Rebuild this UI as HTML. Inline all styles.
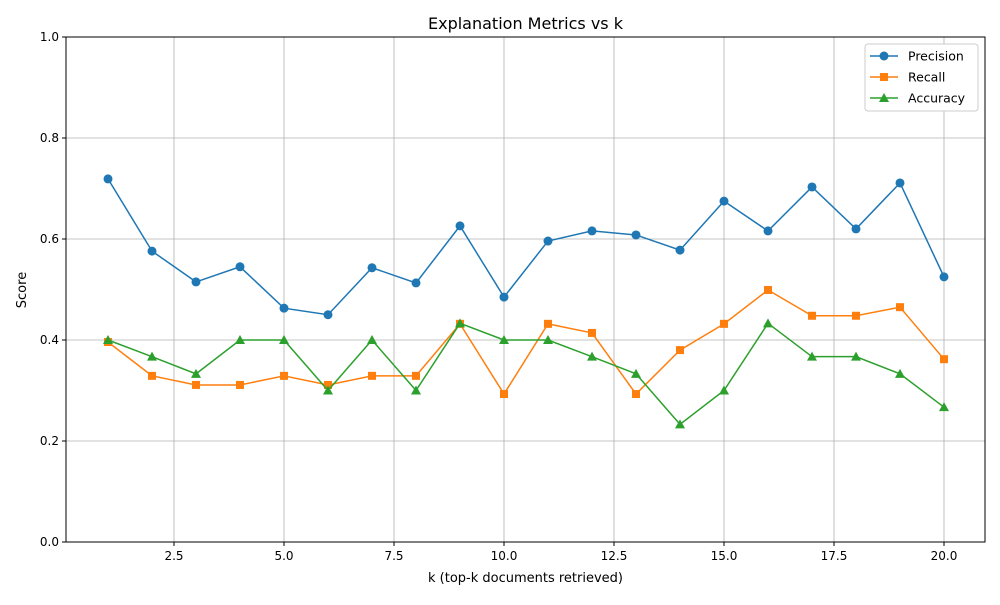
<!DOCTYPE html>
<html><head><meta charset="utf-8"><style>
body{margin:0;background:#fff;font-family:"Liberation Sans","DejaVu Sans",sans-serif;}
svg text{font-family:"DejaVu Sans","Liberation Sans",sans-serif;}
</style></head><body>
<svg id="chart" width="1000" height="600" xmlns="http://www.w3.org/2000/svg">
<rect width="1000" height="600" fill="#fff"/>
<g id="grid"></g><g id="axes"></g><g id="series"></g><g id="legend"></g>
</svg>
<script>
const ks=[1,2,3,4,5,6,7,8,9,10,11,12,13,14,15,16,17,18,19,20];
const precision=[0.719,0.576,0.515,0.545,0.463,0.450,0.543,0.513,0.626,0.485,0.596,0.616,0.608,0.578,0.675,0.616,0.703,0.620,0.711,0.525];
const recall=[0.396,0.329,0.311,0.311,0.329,0.311,0.329,0.329,0.432,0.293,0.432,0.414,0.293,0.380,0.432,0.499,0.448,0.448,0.465,0.362];
const accuracy=[0.4,0.367,0.333,0.4,0.4,0.3,0.4,0.3,0.433,0.4,0.4,0.367,0.333,0.233,0.3,0.433,0.367,0.367,0.333,0.267];
const xTicks=[2.5,5.0,7.5,10.0,12.5,15.0,17.5,20.0];
const yTicks=[0.0,0.2,0.4,0.6,0.8,1.0];
const L=66,R=985,T=37,B=542;
const xs=k=>108+(k-1)*44;
const ys=v=>B-v*(B-T);
const NS="http://www.w3.org/2000/svg";
function mk(tag,attrs,parent){const e=document.createElementNS(NS,tag);for(const a in attrs)e.setAttribute(a,attrs[a]);parent.appendChild(e);return e;}
const grid=document.getElementById('grid'),axes=document.getElementById('axes'),ser=document.getElementById('series'),leg=document.getElementById('legend');
xTicks.forEach(t=>{const x=xs(t);
 const g=mk('line',{x1:x,x2:x,y1:T,y2:B,stroke:'#b0b0b0','stroke-width':0.8},grid);
 
 mk('line',{x1:x,x2:x,y1:B,y2:B+4,stroke:'#000'},axes);
 const tx=mk('text',{x:x,y:B+18,'font-size':12,'text-anchor':'middle'},axes);tx.textContent=t.toFixed(1);
 });
yTicks.forEach(t=>{const y=ys(t);
 const g=mk('line',{x1:L,x2:R,y1:y,y2:y,stroke:'#b0b0b0','stroke-width':0.8},grid);
 
 mk('line',{x1:L-4,x2:L,y1:y,y2:y,stroke:'#000'},axes);
 const tx=mk('text',{x:L-7,y:y+4,'font-size':12,'text-anchor':'end'},axes);tx.textContent=t.toFixed(1);
 });
const fr=mk('rect',{x:L,y:T,width:R-L,height:B-T,fill:'none',stroke:'#000','stroke-width':1},axes);

let t=mk('text',{x:(L+R)/2,y:29,'font-size':16,'text-anchor':'middle'},axes);t.textContent='Explanation Metrics vs k';

t=mk('text',{x:(L+R)/2,y:582,'font-size':13,'text-anchor':'middle'},axes);t.textContent='k (top-k documents retrieved)';

t=mk('text',{x:26,y:290,'font-size':13,'text-anchor':'middle',transform:'rotate(-90 26 290)'},axes);t.textContent='Score';

function marker(type,x,y,c,p){
 let m;
 if(type==='o')m=mk('circle',{cx:x,cy:y,r:4.5,fill:c},p);
 else if(type==='s')m=mk('rect',{x:x-4,y:y-4,width:8,height:8,fill:c},p);
 else m=mk('polygon',{points:`${x},${y-5} ${x-5},${y+4} ${x+5},${y+4}`,fill:c},p);
 return m;}
const S=[['Precision',precision,'#1f77b4','o'],['Recall',recall,'#ff7f0e','s'],['Accuracy',accuracy,'#2ca02c','^']];
S.forEach(([n,vals,c,m])=>{
 const g=mk('g',{},ser);
 mk('polyline',{points:ks.map((k,i)=>xs(k)+','+ys(vals[i])).join(' '),fill:'none',stroke:c,'stroke-width':1.5},g);
 ks.forEach((k,i)=>{const mm=marker(m,xs(k),ys(vals[i]),c,g);});
});
const lb=mk('rect',{x:865,y:44,width:113,height:67,rx:3,fill:'#fff',stroke:'#ccc'},leg);

S.forEach(([n,vals,c,m],i)=>{const y=56+i*21;
 const g=mk('g',{},leg);
 mk('line',{x1:870,x2:898,y1:y,y2:y,stroke:c,'stroke-width':1.5},g);marker(m,884,y,c,g);
 const tx=mk('text',{x:908,y:y+4.5,'font-size':12.5},g);tx.textContent=n;});
</script>
</body></html>
